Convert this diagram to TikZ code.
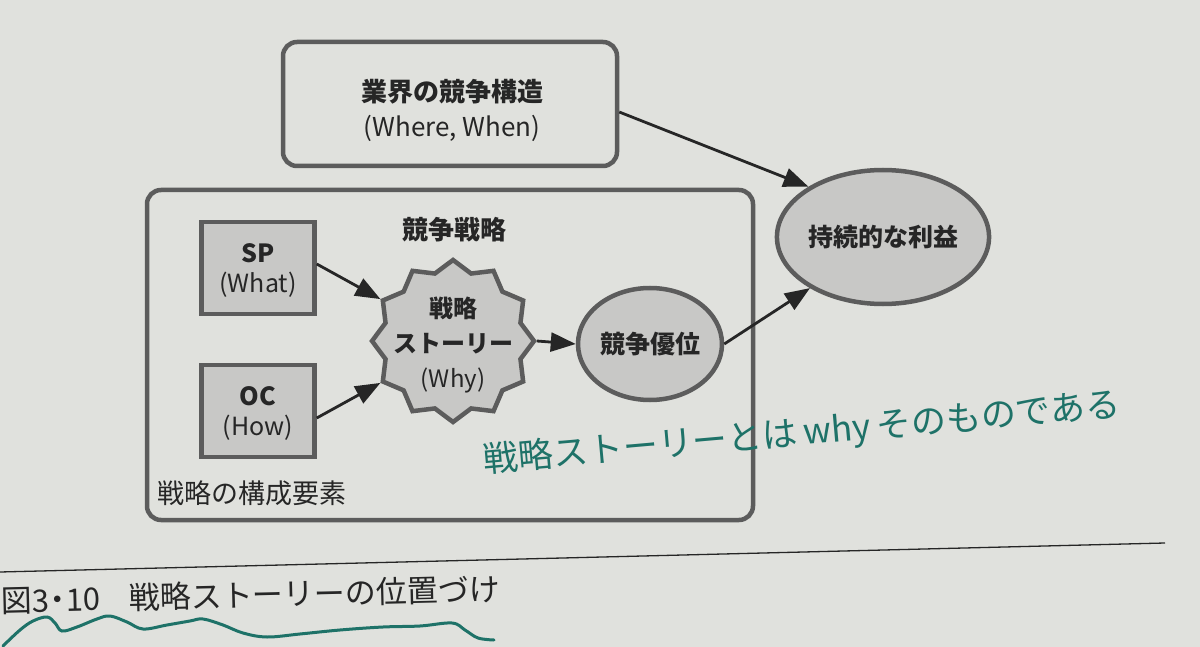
\documentclass[tikz,border=0pt]{standalone}
\usepackage{fontspec}
\setmainfont{Noto Sans CJK JP}
\usetikzlibrary{shapes.geometric,arrows.meta}
\definecolor{paper}{RGB}{224,225,221}
\definecolor{shapefill}{RGB}{200,200,198}
\definecolor{edge}{RGB}{92,92,92}
\definecolor{ink}{RGB}{38,38,38}
\definecolor{pen}{RGB}{30,114,104}
\begin{document}
\begin{tikzpicture}[x=1pt,y=-1pt,
  shapeline/.style={draw=edge, line width=4.5pt},
  graybox/.style={shapeline, fill=shapefill, minimum width=113pt, minimum height=92pt, inner sep=0pt},
  grayell/.style={shapeline, fill=shapefill, ellipse, inner sep=0pt, text=ink, font=\fontsize{25}{30}\selectfont\bfseries},
  conn/.style={draw=ink, line width=2.8pt, -{Triangle[length=25pt,width=19pt]}},
  lbl/.style={text=ink, align=center, inner sep=0pt},
]
\fill[paper] (0,0) rectangle (1200,647);
\useasboundingbox (0,0) rectangle (1200,647);

% top box
\node[shapeline, rounded corners=14pt, minimum width=334pt, minimum height=124pt] (industry) at (450,104) {};
\node[lbl, font=\fontsize{26}{35}\selectfont] (industrytext) at (452,110) {{\bfseries 業界の競争構造}\\(Where, When)};

% outer strategy box
\node[shapeline, rounded corners=14pt, minimum width=606pt, minimum height=330pt] (strategy) at (450,355) {};
\node[lbl, font=\fontsize{26}{30}\selectfont\bfseries] (strategytitle) at (454,230) {競争戦略};

% SP / OC
\node[graybox] (sp) at (258,268) {};
\node[lbl, font=\fontsize{25}{30}\selectfont] (sptext) at (258,270) {{\bfseries SP}\\(What)};
\node[graybox] (oc) at (258,411) {};
\node[lbl, font=\fontsize{25}{30}\selectfont] (octext) at (258,413) {{\bfseries OC}\\(How)};

% story star
\node[shapeline, fill=shapefill, star, star points=12, star point ratio=1.16, minimum size=162pt, inner sep=0pt] (story) at (453,341) {};
\node[lbl, font=\fontsize{24}{35}\selectfont] (storytext) at (453,345) {{\bfseries 戦略}\\{\bfseries ストーリー}\\(Why)};

% ellipses
\node[grayell, minimum width=144pt, minimum height=112pt] (adv) at (650,344) {競争優位};
\node[grayell, minimum width=206pt, minimum height=134pt] (profit) at (883,237) {持続的な利益};

% label
\node[lbl, font=\fontsize{27}{30}\selectfont, anchor=west] (elements) at (157,493) {戦略の構成要素};

% connectors
\draw[conn] ([yshift=-8pt]industry.east) -- (profit.146);
\draw[conn] ([yshift=4pt]sp.east) -- (story.150);
\draw[conn] ([yshift=-7pt]oc.east) -- (story.210);
\draw[conn] (story.east) -- (adv.west);
\draw[conn] (adv.east) -- (profit.215);

% handwritten note
\node[text=pen, inner sep=0pt, rotate=5, font=\fontsize{35}{40}\selectfont] (note) at (802,434) {戦略ストーリーとは\,why\,そのものである};

% caption rule and caption
\coordinate (ruleL) at (0,572);
\coordinate (ruleR) at (1165,543);
\draw[ink, line width=1.3pt] (ruleL) -- (ruleR);
\node[text=ink, inner sep=0pt, anchor=west, rotate=1.4, font=\fontsize{31}{34}\selectfont] (caption) at (1,601) {図3\kern-7pt・\kern-7pt10\hspace{28pt}戦略ストーリーの位置づけ};

% wavy pen underline
\draw[pen, line width=3pt, line cap=round] plot[smooth, tension=0.6] coordinates {(3,646) (20,630) (33,621) (47,617) (55,623) (62,631) (77,627) (97,619) (110,616) (127,622) (143,629) (167,625) (190,621) (203,619) (223,625) (243,633) (267,637) (300,634) (340,630) (383,627) (420,626) (452,623) (465,630) (478,638) (494,640)};
\end{tikzpicture}
\end{document}
